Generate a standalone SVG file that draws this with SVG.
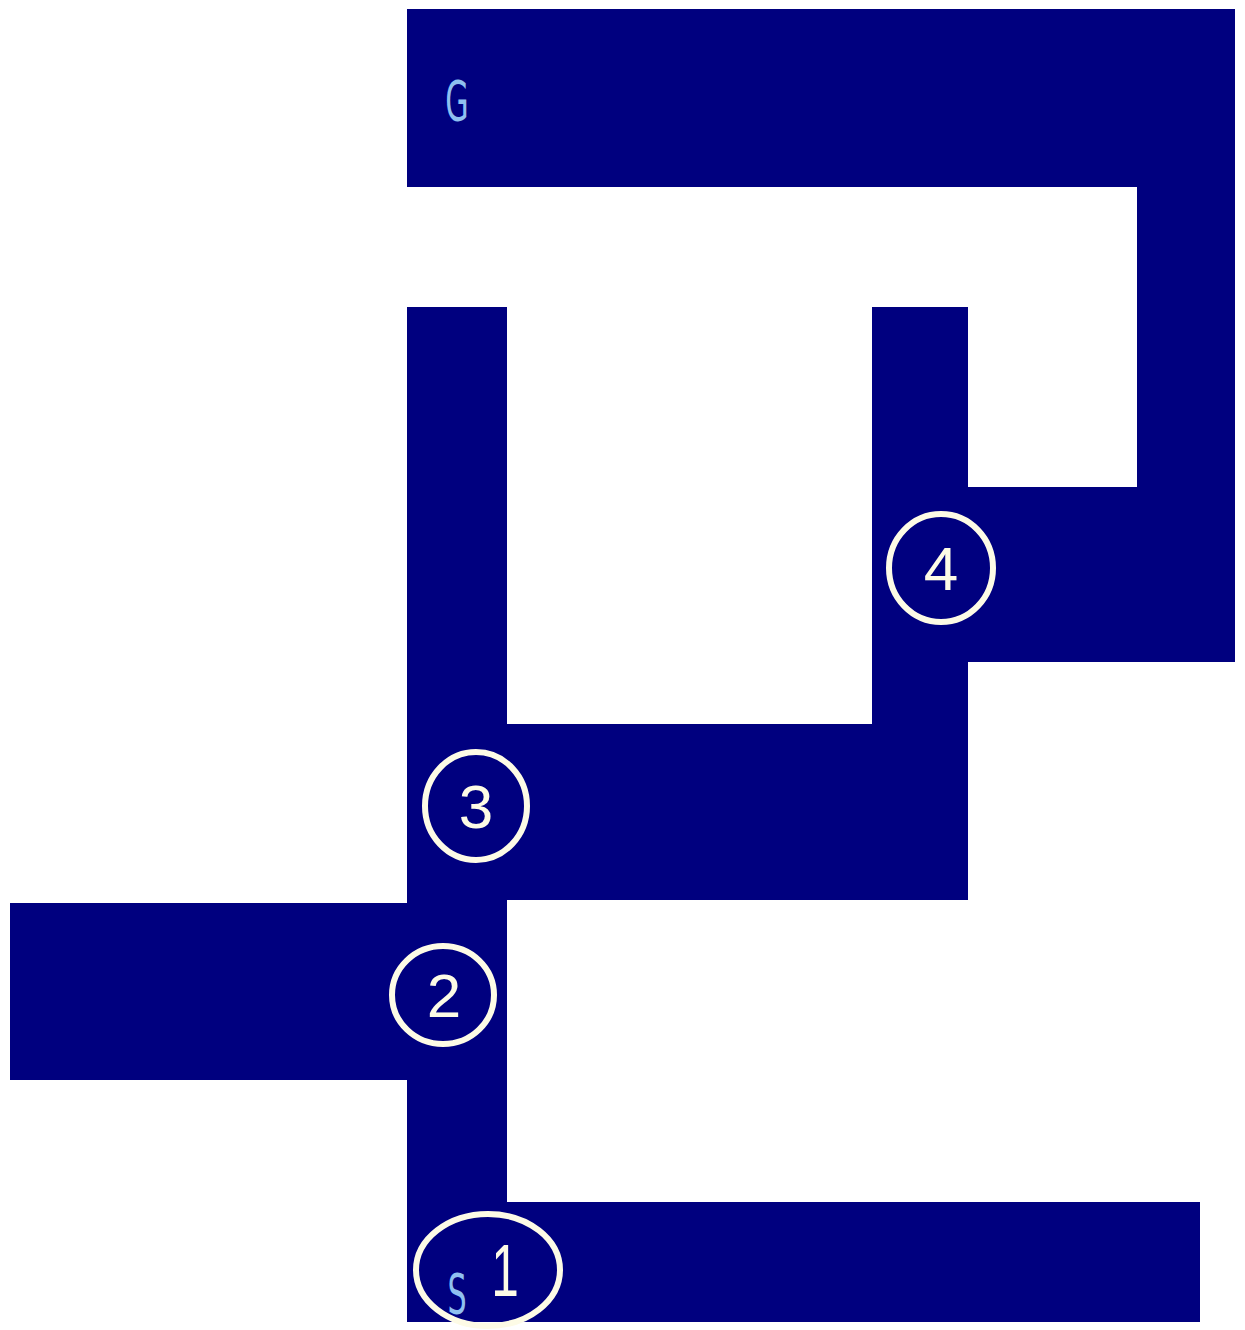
<svg xmlns="http://www.w3.org/2000/svg" width="1245" height="1330" viewBox="0 0 1245 1330">
<style>
.wall{fill:#00007f}
.ring{fill:none;stroke:#fdfbe6;stroke-width:6}
.num{font-family:"Liberation Sans",Arial,sans-serif;font-size:62px;fill:#fdfbe6;text-anchor:middle}
.lbl{font-family:"DejaVu Sans Condensed","Liberation Sans Narrow","Liberation Sans",sans-serif;font-size:56px;fill:#8fc0f0;text-anchor:middle}
</style>
<rect width="1245" height="1330" fill="#ffffff"/>
<g id="maze">
<rect class="wall" x="407" y="9" width="828" height="178"/>
<rect class="wall" x="1137" y="9" width="98" height="653"/>
<rect class="wall" x="968" y="487" width="267" height="175"/>
<rect class="wall" x="872" y="307" width="96" height="593"/>
<rect class="wall" x="507" y="724" width="461" height="176"/>
<rect class="wall" x="407" y="307" width="100" height="1015"/>
<rect class="wall" x="10" y="903" width="397" height="177"/>
<rect class="wall" x="507" y="1202" width="693" height="120"/>
</g>
<g id="label-G"><text class="lbl" x="457" y="120" transform="translate(457 120) scale(0.6 1) translate(-457 -120)">G</text></g>
<g id="label-S"><text class="lbl" x="457" y="1313" transform="translate(457 1313) scale(0.6 1) translate(-457 -1313)">S</text></g>
<g id="node-4"><ellipse class="ring" cx="941" cy="568" rx="52" ry="54"/><text class="num" x="941" y="590">4</text></g>
<g id="node-3"><ellipse class="ring" cx="476" cy="806" rx="51" ry="54"/><text class="num" x="476" y="828">3</text></g>
<g id="node-2"><ellipse class="ring" cx="443" cy="995" rx="51" ry="49"/><text class="num" x="444" y="1017">2</text></g>
<g id="node-1"><ellipse class="ring" cx="488" cy="1270" rx="72" ry="56"/><text class="num" x="505" y="1296" transform="translate(505 1296) scale(0.8 1.2) translate(-505 -1296)">1</text></g>
</svg>
